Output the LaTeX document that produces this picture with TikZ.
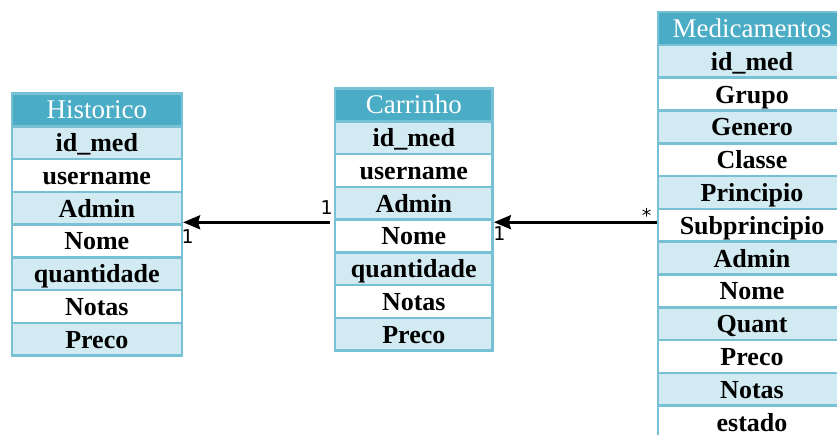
\documentclass[tikz,border=0pt]{standalone}
\usepackage{fontspec}
\setmainfont{Liberation Serif}
\newfontfamily\labelfont{DejaVu Sans}
\usetikzlibrary{arrows.meta}

\definecolor{tabborder}{HTML}{78C0D4}
\definecolor{tabhead}{HTML}{4BACC6}
\definecolor{rowlight}{HTML}{D2EAF1}

\tikzset{
  cell/.style={draw=tabborder, line width=2.6pt, inner sep=0pt, anchor=north west,
               text height=21pt, text depth=3pt},
  headcell/.style={cell, fill=tabhead, text=white, font=\fontsize{27}{27}\selectfont},
  rowcell/.style={cell, font=\fontsize{26}{26}\selectfont\bfseries},
  relation/.style={line width=2.8pt, -{Stealth[length=17pt,width=14pt,inset=2pt]}},
  mult/.style={font=\labelfont\fontsize{19}{19}\selectfont, inner sep=0pt},
}

% \erdtable{prefix}{left}{top}{width}{row height}{title}{fields}
\newcommand{\erdtable}[7]{%
  \node[headcell, minimum width=#4pt, minimum height=#5pt] (#1-t) at (#2,#3) {#6};
  \foreach \f [count=\i] in {#7} {
    \ifodd\i\def\rowfill{rowlight}\else\def\rowfill{white}\fi
    \node[rowcell, fill=\rowfill, minimum width=#4pt, minimum height=#5pt]
      (#1-\i) at (#2,#3+\i*#5) {\f};
  }%
}

\begin{document}
\begin{tikzpicture}[x=1pt, y=-1pt]
  \useasboundingbox (0,0) rectangle (837,434);
  \clip (0,0) rectangle (837,434);

  \erdtable{hist}{10.5}{92.3}{170}{32.75}{Historico}
    {id\_med,username,Admin,Nome,quantidade,Notas,Preco}
  \erdtable{carr}{333.7}{87.3}{157.6}{32.75}{Carrinho}
    {id\_med,username,Admin,Nome,quantidade,Notas,Preco}
  \erdtable{med}{656.7}{10.7}{188}{32.8}{Medicamentos}
    {id\_med,Grupo,Genero,Classe,Principio,Subprincipio,Admin,Nome,Quant,Preco,Notas,estado}

  % Carrinho -> Historico
  \coordinate (a1) at ([xshift=-4pt,yshift=-1.4pt]carr-3.south west);
  \coordinate (t1) at (a1 -| hist-3.east);
  \draw[relation] (a1) -- (t1);
  \node[mult, anchor=south] at ([xshift=-3pt,yshift=7.5pt]a1) {1};
  \node[mult, anchor=north] at ([xshift=4.5pt,yshift=-7pt]t1) {1};

  % Medicamentos -> Carrinho
  \coordinate (a2) at ([yshift=3pt]med-6.west);
  \coordinate (t2) at (a2 -| carr-4.east);
  \draw[relation] (a2) -- (t2);
  \node[mult, anchor=base] at ([xshift=-10pt]a2) {*};
  \node[mult, anchor=north] at ([xshift=5.5pt,yshift=-4pt]t2) {1};
\end{tikzpicture}
\end{document}
